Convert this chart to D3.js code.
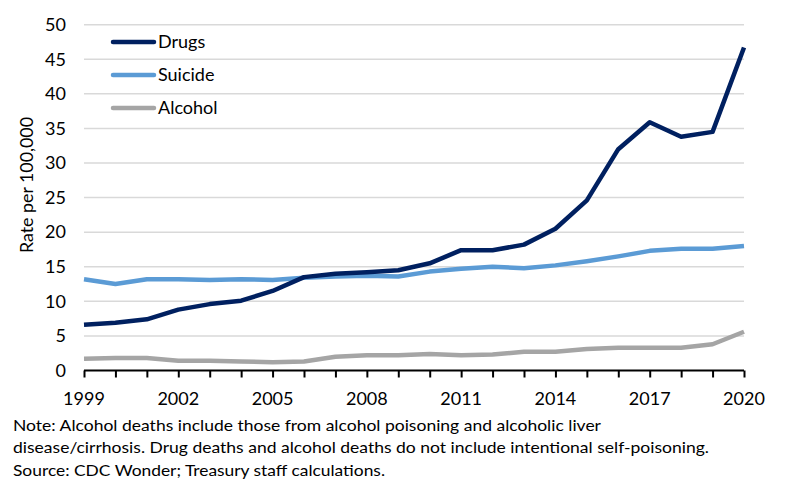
<!DOCTYPE html>
<html><head><meta charset="utf-8">
<script src="https://cdn.jsdelivr.net/npm/d3@7"></script>
<style>body{margin:0;background:#fff}svg{display:block}</style>
</head><body>
<svg id="c" width="790" height="497"></svg>
<script>
const years = d3.range(1999, 2021);
const drugs   = [6.6,6.9,7.4,8.8,9.6,10.1,11.5,13.5,14.0,14.2,14.5,15.5,17.4,17.4,18.2,20.5,24.6,32.0,35.9,33.8,34.5,46.7];
const suicide = [13.2,12.5,13.2,13.2,13.1,13.2,13.1,13.4,13.6,13.7,13.6,14.3,14.7,15.0,14.8,15.2,15.8,16.5,17.3,17.6,17.6,18.0];
const alcohol = [1.7,1.8,1.8,1.4,1.4,1.3,1.2,1.3,2.0,2.2,2.2,2.4,2.2,2.3,2.7,2.7,3.1,3.3,3.3,3.3,3.8,5.6];
const yTicks = [0,5,10,15,20,25,30,35,40,45,50];
const xTickYears = [1999,2002,2005,2008,2011,2014,2017,2020];
const seriesNames = ["Drugs","Suicide","Alcohol"];
const seriesColors = ["#002060","#5B9BD5","#A5A5A5"];
const notes = [
  "Note: Alcohol deaths include those from alcohol poisoning and alcoholic liver",
  "disease/cirrhosis. Drug deaths and alcohol deaths do not include intentional self-poisoning.",
  "Source: CDC Wonder; Treasury staff calculations."
];
const yTitle = "Rate per 100,000";

const font = "Lato, 'Open Sans', sans-serif";
const svg = d3.select("#c");
const x = d3.scaleLinear().domain([1999,2020]).range([84,744]);
const y = d3.scaleLinear().domain([0,50]).range([370.5,24.7]);

// gridlines
svg.append("g").selectAll("line").data(yTicks.filter(d=>d>0)).join("line")
  .attr("x1",84).attr("x2",744).attr("y1",d=>y(d)).attr("y2",d=>y(d))
  .attr("stroke","#D9D9D9").attr("stroke-width",1.5);

// y tick labels
svg.append("g").selectAll("text").data(yTicks).join("text")
  .attr("x",66).attr("y",d=>y(d)).attr("dy","0.35em").attr("text-anchor","end")
  .attr("font-family",font).attr("font-size",18).attr("fill","#000").text(d=>d);

// x axis
const xAxis = d3.axisBottom(x).tickValues(years).tickSize(7).tickFormat("");
const gx = svg.append("g").attr("transform",`translate(0,${y(0)})`).call(xAxis);
gx.select(".domain").attr("stroke","#000").attr("stroke-width",2).attr("d",`M84,0H744`);
gx.selectAll(".tick line").attr("stroke","#000").attr("stroke-width",2);

svg.append("g").selectAll("text").data(xTickYears).join("text")
  .attr("x",d=>x(d)).attr("y",405).attr("text-anchor","middle")
  .attr("font-family",font).attr("font-size",18).attr("fill","#000").text(d=>d);

// y title
svg.append("text").attr("transform","translate(33,185) rotate(-90)")
  .attr("text-anchor","middle").attr("font-family",font).attr("font-size",17)
  .attr("textLength",136).attr("lengthAdjust","spacingAndGlyphs")
  .attr("fill","#000").text(yTitle);

// lines
const line = d3.line().x((d,i)=>x(years[i])).y(d=>y(d)).curve(d3.curveLinear);
[alcohol,suicide,drugs].forEach((s,k)=>{
  const idx = 2-k;
  svg.append("path").attr("d",line(s)).attr("fill","none")
    .attr("stroke",seriesColors[idx]).attr("stroke-width",4.5)
    .attr("stroke-linejoin","round");
});

// legend
const lg = svg.append("g");
seriesNames.forEach((n,i)=>{
  const ly = 42 + i*33;
  lg.append("line").attr("x1",113).attr("x2",154).attr("y1",ly).attr("y2",ly)
    .attr("stroke",seriesColors[i]).attr("stroke-width",4.5).attr("stroke-linecap","round");
  lg.append("text").attr("x",158).attr("y",ly).attr("dy","0.35em")
    .attr("font-family",font).attr("font-size",18).attr("fill","#000").text(n);
});

// notes
const noteW = [588, 696, 372];
const noteY = [431, 453, 476];
notes.forEach((t,i)=>{
  svg.append("text").attr("x",13).attr("y",noteY[i])
    .attr("font-family",font).attr("font-size",16).attr("fill","#000")
    .attr("textLength",noteW[i]).attr("lengthAdjust","spacingAndGlyphs").text(t);
});
</script>
</body></html>
